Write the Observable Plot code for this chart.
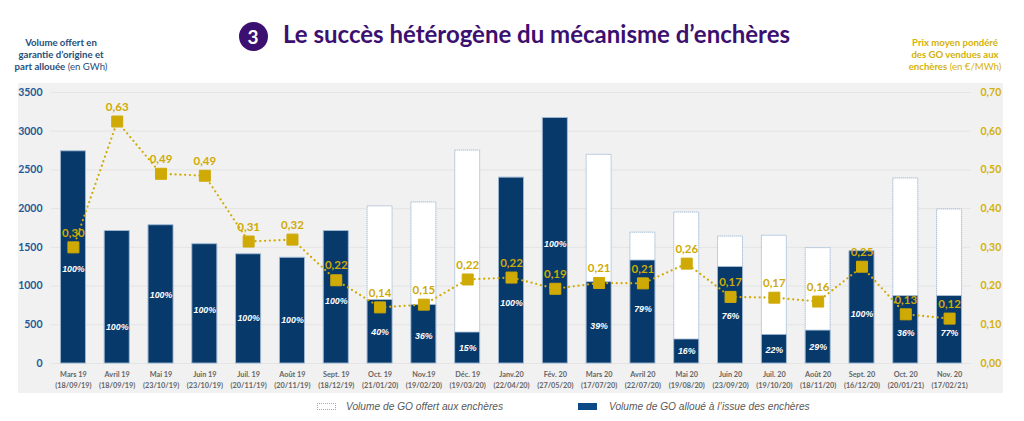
<!DOCTYPE html>
<html><head><meta charset="utf-8">
<script src="https://cdn.jsdelivr.net/npm/d3@7"></script>
<script src="https://cdn.jsdelivr.net/npm/@observablehq/plot@0.6"></script>
<style>
html,body{margin:0;padding:0;background:#fff;width:1024px;height:421px;overflow:hidden;font-family:Lato,sans-serif}
.a{position:absolute}
#title{left:283px;top:19px;font:700 24px Lato;color:#3c1070;white-space:nowrap}
#num{left:238.5px;top:21.5px;width:29px;height:29px;border-radius:50%;background:#3c1070;color:#fff;font:700 19px/29px Lato;text-align:center}
.note{font-size:9.6px;line-height:12px;text-align:center;white-space:nowrap;top:37px}
#nl{left:4px;width:114px;color:#1f4e79}
#nr{left:898px;width:114px;color:#d4b106}
.note span{font-weight:400}.note b{font-weight:700}
#chart{left:18px;top:83px}
.lg{font:italic 10.2px "Liberation Sans";color:#595959;top:401px;white-space:nowrap}
.sw{top:403px;width:19px;height:7px;box-sizing:border-box}
</style></head><body>
<div class="a" id="num">3</div>
<div class="a" id="title">Le succès hétérogène du mécanisme d’enchères</div>
<div class="a note" id="nl"><b>Volume offert en<br>garantie d’origine et<br>part allouée</b> <span>(en GWh)</span></div>
<div class="a note" id="nr"><b>Prix moyen pondéré<br>des GO vendues aux<br>enchères</b> <span>(en €/MWh)</span></div>
<div class="a" id="chart"></div>
<div class="a sw" style="left:317px;background:#fff;border:1px dotted #8fb0d0"></div>
<div class="a lg" style="left:346px">Volume de GO offert aux enchères</div>
<div class="a sw" style="left:578px;background:#0b4a86"></div>
<div class="a lg" style="left:609px">Volume de GO alloué à l’issue des enchères</div>
<script>
const months=["Mars 19","Avril 19","Mai 19","Juin 19","Juil. 19","Août 19","Sept. 19","Oct. 19","Nov.19","Déc. 19","Janv.20","Fév. 20","Mars 20","Avril 20","Mai 20","Juin 20","Juil. 20","Août 20","Sept. 20","Oct. 20","Nov. 20"];
const dates=["18/09/19","18/09/19","23/10/19","23/10/19","20/11/19","20/11/19","18/12/19","21/01/20","19/02/20","19/03/20","22/04/20","27/05/20","17/07/20","22/07/20","19/08/20","23/09/20","19/10/20","18/11/20","16/12/20","20/01/21","17/02/21"];
const offered=[2740,1710,1785,1540,1410,1365,1710,2030,2080,2750,2400,3170,2695,1690,1950,1640,1650,1490,1450,2390,1990];
const allocated=[2740,1710,1785,1540,1410,1365,1710,820,755,400,2400,3170,1050,1330,310,1245,370,425,1450,870,870];
const shareLabels=["100%","100%","100%","100%","100%","100%","100%","40%","36%","15%","100%","100%","39%","79%","16%","76%","22%","29%","100%","36%","77%"];
const shareLabelHeight=[1214,465,878,684,581,555,800,400,349,194,775,1537,478,697,155,607,168,207,633,387,387];
const price=[0.30,0.625,0.49,0.485,0.315,0.32,0.215,0.145,0.152,0.217,0.222,0.193,0.208,0.207,0.258,0.172,0.17,0.16,0.25,0.127,0.116];
const priceLabels=["0,30","0,63","0,49","0,49","0,31","0,32","0,22","0,14","0,15","0,22","0,22","0,19","0,21","0,21","0,26","0,17","0,17","0,16","0,25","0,13","0,12"];
const leftTicks=[0,500,1000,1500,2000,2500,3000,3500];
const rightTicks=[0,0.1,0.2,0.3,0.4,0.5,0.6,0.7];
const RATIO=5000; // 0,70 €/MWh sits level with 3500 GWh
const gold="#cfaa05", navy="#08396b", edge="#a9c0d9";
const rows=months.map((m,i)=>({m,i,offered:offered[i],allocated:allocated[i],share:shareLabels[i],sh:shareLabelHeight[i],p:price[i]*RATIO,pl:priceLabels[i]}));
const chart=Plot.plot({
  width:985,height:310,marginLeft:33,marginRight:32,marginTop:9,marginBottom:30,
  style:{background:"#f1f1f1",overflow:"visible",fontFamily:"Lato"},
  x:{domain:months,paddingInner:0.43,paddingOuter:0.215,round:false,label:null,axis:null},
  y:{domain:[0,3500],label:null,axis:null},
  marks:[
    Plot.ruleY(leftTicks,{stroke:"#e4e4e4",strokeWidth:1}),
    Plot.axisY({anchor:"left",ticks:leftTicks,tickSize:0,tickPadding:9,label:null,tickFormat:d=>String(d),fill:"#1f5a96",fontWeight:700,fontSize:10.5}),
    Plot.axisY({anchor:"right",ticks:rightTicks.map(d=>d*RATIO),tickSize:0,tickPadding:9,label:null,tickFormat:d=>(d/RATIO).toFixed(2).replace(".",","),fill:"#d4b106",fontWeight:700,fontSize:10.5}),
    Plot.axisX({anchor:"bottom",tickSize:0,tickPadding:6,label:null,tickFormat:(d)=>d+"\n("+dates[months.indexOf(d)]+")",fill:"#666",fontWeight:700,fontSize:7.3,lineHeight:1.5}),
    Plot.barY(rows,{x:"m",y:"offered",fill:"#fff",stroke:edge,strokeWidth:1,strokeDasharray:"1.5 0.5"}),
    Plot.barY(rows,{x:"m",y:"allocated",fill:navy,stroke:edge,strokeWidth:0.8}),
    Plot.text(rows,{x:"m",y:"sh",text:"share",fill:"#fff",fontFamily:"Liberation Sans",fontStyle:"italic",fontWeight:700,fontSize:8.8}),
    Plot.line(rows,{x:"m",y:"p",stroke:gold,strokeWidth:2.3,strokeDasharray:"0 4.8",strokeLinecap:"round",curve:"linear"}),
    Plot.dot(rows,{x:"m",y:"p",symbol:"square",r:6.2,fill:gold,stroke:gold,strokeWidth:1,strokeLinejoin:"round"}),
    Plot.text(rows,{x:"m",y:"p",text:"pl",dy:-14.5,fill:gold,fontWeight:700,fontSize:11.5})
  ]
});
document.getElementById("chart").append(chart);
</script>
</body></html>
